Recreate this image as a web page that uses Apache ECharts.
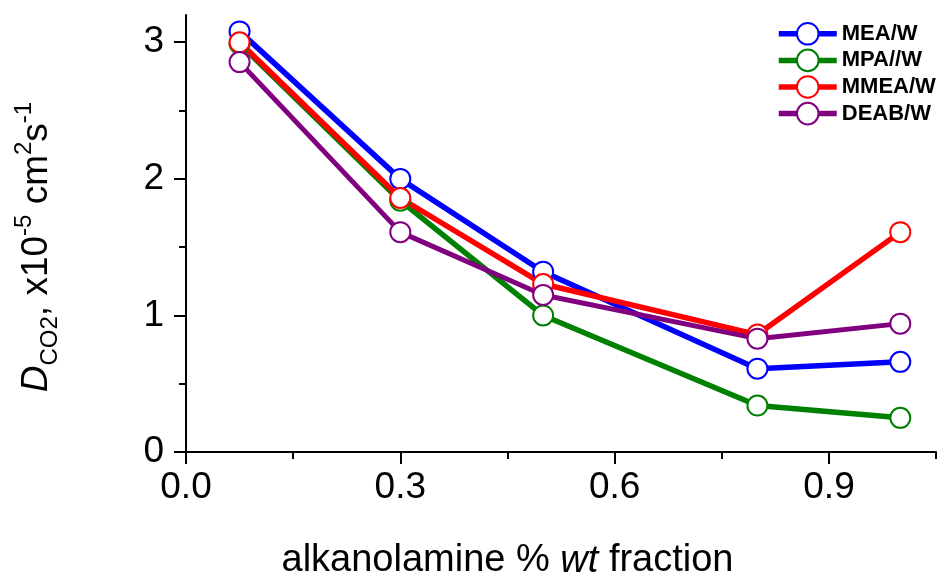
<!DOCTYPE html>
<html>
<head>
<meta charset="utf-8">
<script src="https://cdn.jsdelivr.net/npm/echarts@6/dist/echarts.min.js"></script>
<style>html,body{margin:0;padding:0;background:#fff}#c{width:943px;height:584px}</style>
</head>
<body>
<div id="c"></div>
<script>
const xValues = [0.075, 0.3, 0.5, 0.8, 1.0];
const seriesNames = ['MEA/W', 'MPA//W', 'MMEA/W', 'DEAB/W'];
const MEA = [3.08, 2.0, 1.32, 0.61, 0.66];
const MPA = [2.99, 1.84, 1.0, 0.34, 0.25];
const MMEA = [3.0, 1.86, 1.23, 0.86, 1.61];
const DEAB = [2.855, 1.61, 1.15, 0.83, 0.94];
const xTicks = [0.0, 0.3, 0.6, 0.9];
const yTicks = [0, 1, 2, 3];

const colors = ['#0000FF', '#008000', '#FF0000', '#800080'];
const widths = [5.5, 5.5, 5.5, 5];
const allData = [MEA, MPA, MMEA, DEAB];

const FONT = 'Liberation Sans, Arial, sans-serif';
const chart = echarts.init(document.getElementById('c'), null, {renderer: 'canvas'});

const series = allData.map((d, i) => ({
  name: seriesNames[i],
  type: 'line',
  xAxisIndex: 0,
  yAxisIndex: 0,
  data: d.map((v, j) => [xValues[j], v]),
  symbol: 'circle',
  symbolSize: 20,
  lineStyle: {color: colors[i], width: widths[i]},
  itemStyle: {color: '#fff', borderColor: colors[i], borderWidth: 2},
  emphasis: {disabled: true},
  animation: false
}));

const axisLineStyle = {color: '#000', width: 2};

chart.setOption({
  animation: false,
  grid: [
    {left: 186, right: 7, top: 15, bottom: 132, containLabel: false, outerBoundsMode: 'none'},
    {left: 186, right: 114, top: 42, bottom: 132, containLabel: false, outerBoundsMode: 'none'}
  ],
  legend: {
    data: seriesNames.map((n, i) => ({name: n, lineStyle: {width: 5.5, color: colors[i]}})),
    orient: 'vertical',
    left: 776,
    top: 22,
    padding: 0,
    itemWidth: 58,
    itemHeight: 27,
    itemGap: 3,
    textStyle: {fontFamily: FONT, fontWeight: 'bold', fontSize: 22, color: '#000'}
  },
  xAxis: [
    {
      gridIndex: 0, type: 'value', min: 0, max: 1.05, interval: 0.15,
      axisLine: {show: true, lineStyle: axisLineStyle, onZero: false},
      axisTick: {show: true, inside: false, length: 7, lineStyle: axisLineStyle},
      axisLabel: {show: false},
      splitLine: {show: false}
    },
    {
      gridIndex: 1, type: 'value', min: 0, max: 0.9, interval: 0.3,
      axisLine: {show: false, onZero: false},
      axisTick: {show: true, inside: false, length: 12, lineStyle: axisLineStyle},
      axisLabel: {show: true, margin: 17, fontFamily: FONT, fontSize: 37, color: '#000',
        formatter: v => { const t = xTicks.find(x => Math.abs(x - v) < 1e-6); return t === undefined ? '' : t.toFixed(1); }},
      splitLine: {show: false},
      name: 'alkanolamine % {it|wt} fraction',
      nameLocation: 'middle',
      nameGap: 90,
      nameTextStyle: {fontFamily: FONT, fontSize: 38, color: '#000',
        rich: {it: {fontFamily: FONT, fontSize: 38, fontStyle: 'italic', color: '#000'}}}
    }
  ],
  yAxis: [
    {
      gridIndex: 0, type: 'value', min: 0, max: 3.2,
      axisLine: {show: true, lineStyle: axisLineStyle, onZero: false},
      axisTick: {show: false},
      axisLabel: {show: false},
      splitLine: {show: false}
    },
    {
      gridIndex: 1, type: 'value', min: 0, max: 3, interval: 1,
      axisLine: {show: false, onZero: false},
      axisTick: {show: true, inside: false, length: 12, lineStyle: axisLineStyle},
      minorTick: {show: true, splitNumber: 2, length: 7, lineStyle: axisLineStyle},
      axisLabel: {show: true, margin: 22, fontFamily: FONT, fontSize: 37, color: '#000',
        formatter: v => { const t = yTicks.find(y => Math.abs(y - v) < 1e-6); return t === undefined ? '' : String(t); }},
      splitLine: {show: false},
      name: '{d|D}{sub|CO2}{n|, x10}{sup|-5}{n| cm}{sup|2}{n|s}{sup|-1}',
      nameLocation: 'middle',
      nameRotate: 90,
      nameGap: 124,
      nameTextStyle: {
        fontFamily: FONT, fontSize: 37, color: '#000',
        rich: {
          d: {fontFamily: FONT, fontSize: 37, fontStyle: 'italic', color: '#000', lineHeight: 50, verticalAlign: 'middle'},
          n: {fontFamily: FONT, fontSize: 37, color: '#000', lineHeight: 50, verticalAlign: 'middle'},
          sub: {fontFamily: FONT, fontSize: 24, color: '#000', lineHeight: 24, verticalAlign: 'bottom'},
          sup: {fontFamily: FONT, fontSize: 24, color: '#000', lineHeight: 24, verticalAlign: 'top'}
        }
      }
    }
  ],
  series: series
});
</script>
</body>
</html>
